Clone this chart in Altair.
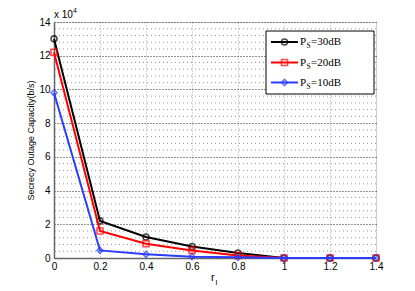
import altair as alt
import pandas as pd

# ---- data (capacity in units of 1e4 b/s) ----
r_l = [0, 0.2, 0.4, 0.6, 0.8, 1.0, 1.2, 1.4]
cap_30 = [13.0, 2.2, 1.25, 0.68, 0.3, 0, 0, 0]
cap_20 = [12.2, 1.6, 0.85, 0.45, 0.15, 0, 0, 0]
cap_10 = [9.8, 0.45, 0.22, 0.08, 0.04, 0, 0, 0]
series_labels = ["=30dB", "=20dB", "=10dB"]
series_values = [cap_30, cap_20, cap_10]
colors = ["#000000", "#ff0000", "#2a3cff"]
shapes = ["circle", "square", "diamond"]
x_ticks = [0, 0.2, 0.4, 0.6, 0.8, 1.0, 1.2, 1.4]
y_ticks = [0, 2, 4, 6, 8, 10, 12, 14]
minor_y = [round(0.4 * k, 1) for k in range(1, 35) if k % 5]

W, H = 322, 236

xscale = alt.Scale(domain=[0, 1.4], nice=False, zero=False)
yscale = alt.Scale(domain=[0, 14], nice=False)

x_axis = alt.Axis(values=x_ticks, format="~g", title=None, grid=True,
                  gridColor="#aaaaaa", gridDash=[1, 2], gridWidth=1,
                  ticks=False, labelFontSize=10, labelColor="#000",
                  labelPadding=3, domainColor="#666", domainWidth=1.5,
                  labelOverlap=False, labelFlush=False,
                  labelFont="Liberation Sans")
y_axis = alt.Axis(values=y_ticks, title="Secrecy Outage Capacity(b/s)",
                  grid=True, gridColor="#000", gridDash=[1, 2], gridOpacity=0.85,
                  ticks=False, labelFontSize=10, labelColor="#000",
                  labelPadding=4, domainColor="#666", domainWidth=1.5,
                  labelOverlap=False, labelFlush=False,
                  titleFontSize=9, titleFontWeight="normal",
                  titleColor="#000", titlePadding=3,
                  labelFont="Liberation Sans", titleFont="Liberation Sans")

minor_df = pd.DataFrame({"c": minor_y})
minor = alt.Chart(minor_df).mark_rule(color="#999999", strokeDash=[1, 3], strokeWidth=1).encode(
    y=alt.Y("c:Q", scale=yscale, axis=y_axis)
)

layers = [minor]
for vals, col, shp in zip(series_values, colors, shapes):
    df = pd.DataFrame({"r": r_l, "c": vals})
    bx = alt.X("r:Q", scale=xscale, axis=x_axis)
    by = alt.Y("c:Q", scale=yscale, axis=y_axis)
    line = alt.Chart(df).mark_line(color=col, strokeWidth=2).encode(x=bx, y=by)
    pts = alt.Chart(df).mark_point(shape=shp, color=col, filled=False, strokeWidth=1.6,
                                   size=36).encode(x=bx, y=by)
    layers += [line, pts]

one = alt.Data(values=[{}])

# multiplier label
layers.append(alt.Chart(one).mark_text(text="x 10", fontSize=10, font="Liberation Sans",
                                       align="left", baseline="alphabetic", color="#000")
              .encode(x=alt.value(0), y=alt.value(-4)))
layers.append(alt.Chart(one).mark_text(text="4", fontSize=7, font="Liberation Sans",
                                       align="left", baseline="alphabetic", color="#000")
              .encode(x=alt.value(19), y=alt.value(-9)))

# x title r_l
layers.append(alt.Chart(one).mark_text(text="r", fontSize=11, font="Liberation Sans",
                                       align="left", baseline="alphabetic", color="#000")
              .encode(x=alt.value(157), y=alt.value(23 + H)))
layers.append(alt.Chart(one).mark_text(text="l", fontSize=8, font="Liberation Sans",
                                       align="left", baseline="alphabetic", color="#000")
              .encode(x=alt.value(161.5), y=alt.value(27 + H)))

# legend
layers.append(alt.Chart(one).mark_rect(fill="white", stroke="#000", strokeWidth=1).encode(
    x=alt.value(212), x2=alt.value(320), y=alt.value(9), y2=alt.value(72)))
legend_y = [20, 40.5, 60.5]
for lab, col, shp, ly in zip(series_labels, colors, shapes, legend_y):
    layers.append(alt.Chart(one).mark_rule(color=col, strokeWidth=2).encode(
        x=alt.value(217), x2=alt.value(244), y=alt.value(ly)))
    layers.append(alt.Chart(one).mark_point(shape=shp, color=col, filled=False,
                                            strokeWidth=1.6, size=36).encode(
        x=alt.value(230.5), y=alt.value(ly)))
    layers.append(alt.Chart(one).mark_text(text="P", fontSize=11, font="Liberation Serif",
                                           align="left", baseline="middle", color="#000").encode(
        x=alt.value(246), y=alt.value(ly)))
    layers.append(alt.Chart(one).mark_text(text="S", fontSize=7.5, font="Liberation Serif",
                                           align="left", baseline="middle", color="#000").encode(
        x=alt.value(252.5), y=alt.value(ly + 4)))
    layers.append(alt.Chart(one).mark_text(text=lab, fontSize=11, font="Liberation Serif",
                                           align="left", baseline="middle", color="#000").encode(
        x=alt.value(257), y=alt.value(ly)))

chart = alt.layer(*layers).properties(
    width=W, height=H,
    autosize=alt.AutoSizeParams(type="none"),
    padding={"left": 46, "top": 14, "right": 31, "bottom": 33},
).configure_view(stroke="#000", strokeWidth=1).configure_axis(
    labelOverlap=False
).configure(background="white")

chart.save("out.html", embed_options={"renderer": "svg", "actions": False})
